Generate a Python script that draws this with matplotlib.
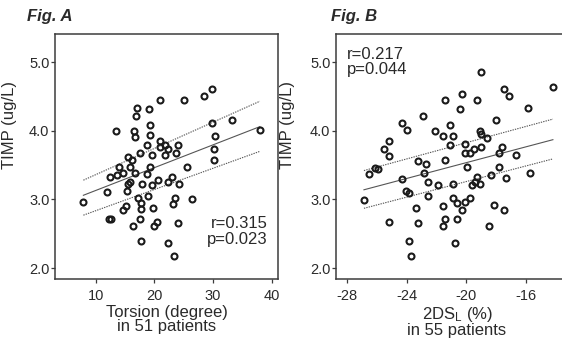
import matplotlib
matplotlib.use("Agg")
import matplotlib.pyplot as plt
import numpy as np

plt.rcParams['font.family'] = ['Liberation Sans', 'DejaVu Sans']
plt.rcParams['axes.unicode_minus'] = False

# ---- Panel A data: Torsion vs TIMP ----
torsion = [13.4, 17.1, 19.1, 16.8, 21.0, 25.0, 28.4, 29.9, 16.6, 16.7, 19.2, 19.2,
           21.0, 21.0, 21.8, 22.3, 18.7, 24.0, 17.6, 19.6, 21.8, 23.7, 15.5, 16.2,
           29.9, 33.2, 30.4, 38.1, 30.1, 30.1, 14.0, 15.8, 19.2, 25.6, 12.4, 13.6,
           14.6, 16.7, 18.7, 15.5, 15.8, 17.9, 19.6, 20.7, 22.3, 23.0, 24.2, 12.0,
           15.4, 7.9, 17.2, 19.0, 17.7, 23.5, 26.5, 15.2, 14.7, 17.8, 19.8, 23.2,
           12.2, 12.6, 17.5, 16.4, 19.9, 20.4, 24.1, 17.8, 22.4, 23.3]
timp_a = [4.00, 4.33, 4.32, 4.21, 4.45, 4.45, 4.50, 4.61, 4.00, 3.91, 4.09, 3.94,
          3.85, 3.76, 3.79, 3.74, 3.79, 3.79, 3.68, 3.65, 3.65, 3.67, 3.62, 3.58,
          4.11, 4.16, 3.93, 4.01, 3.74, 3.57, 3.47, 3.47, 3.47, 3.47, 3.32, 3.35,
          3.39, 3.39, 3.37, 3.23, 3.25, 3.23, 3.21, 3.28, 3.26, 3.32, 3.22, 3.11,
          3.12, 2.96, 3.02, 3.05, 2.95, 3.02, 3.00, 2.91, 2.84, 2.86, 2.88, 2.93,
          2.71, 2.71, 2.71, 2.61, 2.61, 2.67, 2.65, 2.40, 2.37, 2.18]
fit_a_x = [7.9, 38.0]
fit_a_mid = [3.06, 4.06]
fit_a_upper = [3.28, 4.43]
fit_a_lower = [2.77, 3.70]

# ---- Panel B data: 2DSL vs TIMP ----
dsl = [-18.98, -14.22, -17.49, -17.15, -20.29, -21.42, -19.29, -20.42, -15.87, -22.87,
       -24.33, -24.00, -22.07, -21.56, -21.07, -20.91, -19.11, -18.98, -18.64, -17.98,
       -25.15, -25.51, -25.15, -21.07, -20.11, -18.98, -19.45, -19.78, -20.11, -17.64,
       -17.82, -16.67, -23.20, -22.69, -21.42, -26.09, -25.90, -19.93, -17.80, -26.51,
       -22.84, -24.33, -22.53, -21.89, -20.91, -19.62, -19.29, -19.40, -19.11, -18.33,
       -17.31, -15.71, -26.85, -24.02, -23.84, -22.53, -20.91, -20.60, -20.11, -19.75,
       -20.27, -23.35, -21.58, -18.16, -17.49, -25.18, -23.20, -21.40, -20.60, -21.58,
       -18.47, -23.84, -20.75, -23.69]
timp_b = [4.85, 4.64, 4.61, 4.50, 4.53, 4.45, 4.45, 4.32, 4.33, 4.21,
          4.11, 4.01, 4.00, 3.93, 4.09, 3.92, 4.00, 3.95, 3.90, 4.16,
          3.85, 3.74, 3.63, 3.79, 3.80, 3.77, 3.74, 3.68, 3.67, 3.77,
          3.68, 3.64, 3.56, 3.51, 3.57, 3.46, 3.45, 3.47, 3.47, 3.37,
          3.39, 3.29, 3.25, 3.21, 3.23, 3.21, 3.32, 3.25, 3.23, 3.35,
          3.31, 3.39, 2.99, 3.12, 3.10, 3.05, 3.02, 2.95, 2.96, 3.02,
          2.85, 2.88, 2.90, 2.92, 2.84, 2.67, 2.65, 2.71, 2.71, 2.61,
          2.61, 2.40, 2.37, 2.18]
fit_b_x = [-26.85, -14.2]
fit_b_mid = [3.14, 3.87]
fit_b_upper = [3.42, 4.17]
fit_b_lower = [2.87, 3.59]

yticks = [2.0, 3.0, 4.0, 5.0]
ytick_labels = ['2.0', '3.0', '4.0', '5.0']
xticks_a = [10, 20, 30, 40]
xticks_b = [-28, -24, -20, -16]

W, H = 562, 338
fig = plt.figure(figsize=(W / 100, H / 100), dpi=100)
fig.patch.set_facecolor('white')

axA = fig.add_axes([55 / W, (H - 279) / H, 223 / W, 245 / H])
axB = fig.add_axes([336 / W, (H - 279) / H, 242 / W, 245 / H])

spine_c = '#3c3c3c'
text_c = '#2a2a2a'
mark_c = '#1a1a1a'
line_c = '#555555'


def style(ax, xlim, xticks):
    ax.set_xlim(*xlim)
    ax.set_ylim(1.84, 5.41)
    ax.set_xticks(xticks)
    ax.set_yticks(yticks)
    ax.set_yticklabels(ytick_labels)
    for s in ax.spines.values():
        s.set_color(spine_c)
        s.set_linewidth(1.1)
    ax.tick_params(axis='both', direction='out', length=3, width=0.9,
                   color=spine_c, labelcolor=text_c, labelsize=10.5)
    ax.tick_params(axis='y', pad=1)
    ax.tick_params(axis='x', pad=4)
    ax.tick_params(top=False, right=False)


def draw(ax, x, y, fx, fm, fu, fl):
    ax.plot(fx, fu, color=line_c, lw=0.8, ls=(0, (1.2, 1.0)))
    ax.plot(fx, fl, color=line_c, lw=0.8, ls=(0, (1.2, 1.0)))
    ax.plot(fx, fm, color=line_c, lw=0.8, ls='-')
    ax.plot(x, y, ls='none', marker='o', ms=4.3, mfc='none', mec=mark_c, mew=1.5)


draw(axA, torsion, timp_a, fit_a_x, fit_a_mid, fit_a_upper, fit_a_lower)
draw(axB, dsl, timp_b, fit_b_x, fit_b_mid, fit_b_upper, fit_b_lower)
style(axA, (3.06, 41.1), xticks_a)
style(axB, (-28.72, -12.52), xticks_b)

for ax in (axA, axB):
    ax.set_ylabel('TIMP (ug/L)', fontsize=12, color=text_c)
    ax.yaxis.set_label_coords(-0.17, 0.63)

axA.set_xlabel('Torsion (degree)\nin 51 patients', fontsize=12, color=text_c,
               linespacing=0.95)
axA.xaxis.set_label_coords(0.5, -0.105)
axB.set_xlabel('2DS$\\mathregular{_L}$ (%)\nin 55 patients', fontsize=12, color=text_c,
               linespacing=0.95)
axB.xaxis.set_label_coords(0.5, -0.105)

axA.text(0.955, 0.195, 'r=0.315\np=0.023', transform=axA.transAxes, ha='right',
         va='center', fontsize=12, color=text_c, linespacing=1.05)
axB.text(0.045, 0.885, 'r=0.217\np=0.044', transform=axB.transAxes, ha='left',
         va='center', fontsize=12, color=text_c, linespacing=1.05)

fig.text(27 / W, 1 - 17 / H, 'Fig. A', fontsize=12, fontweight='bold',
         fontstyle='italic', va='center', ha='left', color=text_c)
fig.text(331 / W, 1 - 17 / H, 'Fig. B', fontsize=12, fontweight='bold',
         fontstyle='italic', va='center', ha='left', color=text_c)

fig.savefig('out.png', dpi=100, facecolor='white')
